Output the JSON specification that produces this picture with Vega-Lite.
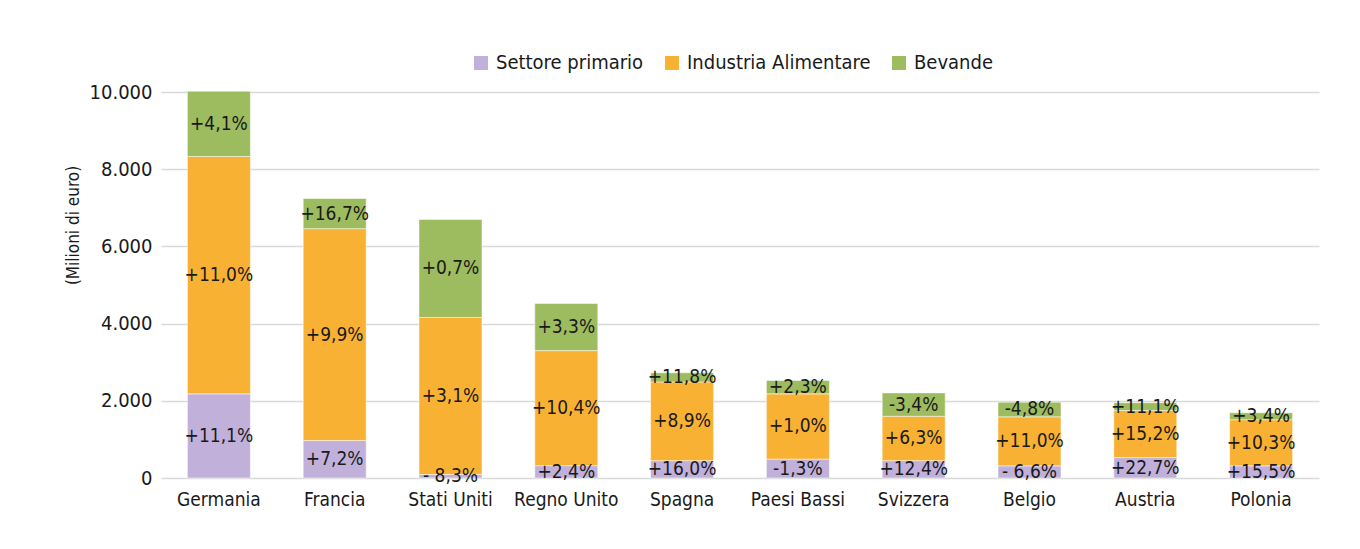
{
  "$schema": "https://vega.github.io/schema/vega-lite/v6.json",
  "width": 1158,
  "height": 386,
  "autosize": {"type": "none"},
  "padding": {"left": 161, "top": 92, "right": 41, "bottom": 71},
  "background": "white",
  "config": {
    "font": "DejaVu Sans Condensed, Liberation Sans Narrow, sans-serif",
    "view": {"stroke": null},
    "locale": {"number": {"decimal": ",", "thousands": ".", "grouping": [3], "currency": ["€", ""]}}
  },
  "data": {
    "values": [
      {"paese": "Germania", "serie": "Settore primario", "valore": 2180, "var": "+11,1%"},
      {"paese": "Germania", "serie": "Industria Alimentare", "valore": 6150, "var": "+11,0%"},
      {"paese": "Germania", "serie": "Bevande", "valore": 1690, "var": "+4,1%"},
      {"paese": "Francia", "serie": "Settore primario", "valore": 970, "var": "+7,2%"},
      {"paese": "Francia", "serie": "Industria Alimentare", "valore": 5490, "var": "+9,9%"},
      {"paese": "Francia", "serie": "Bevande", "valore": 780, "var": "+16,7%"},
      {"paese": "Stati Uniti", "serie": "Settore primario", "valore": 90, "var": "- 8,3%"},
      {"paese": "Stati Uniti", "serie": "Industria Alimentare", "valore": 4070, "var": "+3,1%"},
      {"paese": "Stati Uniti", "serie": "Bevande", "valore": 2540, "var": "+0,7%"},
      {"paese": "Regno Unito", "serie": "Settore primario", "valore": 320, "var": "+2,4%"},
      {"paese": "Regno Unito", "serie": "Industria Alimentare", "valore": 2980, "var": "+10,4%"},
      {"paese": "Regno Unito", "serie": "Bevande", "valore": 1220, "var": "+3,3%"},
      {"paese": "Spagna", "serie": "Settore primario", "valore": 450, "var": "+16,0%"},
      {"paese": "Spagna", "serie": "Industria Alimentare", "valore": 2040, "var": "+8,9%"},
      {"paese": "Spagna", "serie": "Bevande", "valore": 235, "var": "+11,8%"},
      {"paese": "Paesi Bassi", "serie": "Settore primario", "valore": 490, "var": "-1,3%"},
      {"paese": "Paesi Bassi", "serie": "Industria Alimentare", "valore": 1690, "var": "+1,0%"},
      {"paese": "Paesi Bassi", "serie": "Bevande", "valore": 345, "var": "+2,3%"},
      {"paese": "Svizzera", "serie": "Settore primario", "valore": 450, "var": "+12,4%"},
      {"paese": "Svizzera", "serie": "Industria Alimentare", "valore": 1150, "var": "+6,3%"},
      {"paese": "Svizzera", "serie": "Bevande", "valore": 605, "var": "-3,4%"},
      {"paese": "Belgio", "serie": "Settore primario", "valore": 315, "var": "- 6,6%"},
      {"paese": "Belgio", "serie": "Industria Alimentare", "valore": 1270, "var": "+11,0%"},
      {"paese": "Belgio", "serie": "Bevande", "valore": 380, "var": "-4,8%"},
      {"paese": "Austria", "serie": "Settore primario", "valore": 530, "var": "+22,7%"},
      {"paese": "Austria", "serie": "Industria Alimentare", "valore": 1220, "var": "+15,2%"},
      {"paese": "Austria", "serie": "Bevande", "valore": 200, "var": "+11,1%"},
      {"paese": "Polonia", "serie": "Settore primario", "valore": 315, "var": "+15,5%"},
      {"paese": "Polonia", "serie": "Industria Alimentare", "valore": 1195, "var": "+10,3%"},
      {"paese": "Polonia", "serie": "Bevande", "valore": 180, "var": "+3,4%"}
    ]
  },
  "transform": [
    {"stack": "valore", "groupby": ["paese"], "sort": [{"field": "serie", "order": "descending"}], "as": ["v0", "v1"]},
    {"calculate": "(datum.v0 + datum.v1) / 2", "as": "mid"}
  ],
  "encoding": {
    "x": {
      "field": "paese",
      "type": "nominal",
      "sort": null,
      "scale": {"paddingInner": 0.456, "paddingOuter": 0.228},
      "axis": {
        "title": null,
        "labelAngle": 0,
        "labelFontSize": 19,
        "labelColor": "#1a1a1a",
        "labelPadding": 12,
        "ticks": false,
        "domain": false
      }
    }
  },
  "layer": [
    {
      "mark": {"type": "bar", "stroke": "white", "strokeWidth": 0.5},
      "encoding": {
        "y": {
          "field": "v0",
          "type": "quantitative",
          "scale": {"domain": [0, 10000], "nice": false},
          "axis": {
            "title": "(Milioni di euro)",
            "titleFontSize": 17,
            "titleFontWeight": "normal",
            "titleColor": "#1a1a1a",
            "titleX": -88,
            "titleY": 133,
            "titleBaseline": "middle",
            "values": [0, 2000, 4000, 6000, 8000, 10000],
            "format": ",d",
            "labelFontSize": 20,
            "labelColor": "#1a1a1a",
            "labelPadding": 9,
            "ticks": false,
            "domain": false,
            "grid": true,
            "gridColor": "#d9d9d9",
            "gridWidth": 1.5
          }
        },
        "y2": {"field": "v1"},
        "color": {
          "field": "serie",
          "type": "nominal",
          "scale": {
            "domain": ["Settore primario", "Industria Alimentare", "Bevande"],
            "range": ["#c1b0da", "#f8b133", "#9dbb5f"]
          },
          "legend": {
            "title": null,
            "orient": "none",
            "direction": "horizontal",
            "legendX": 310,
            "legendY": -39,
            "symbolType": "square",
            "symbolSize": 196,
            "symbolStrokeWidth": 0,
            "symbolOpacity": 1,
            "labelFontSize": 20,
            "labelLimit": 400,
            "labelColor": "#1a1a1a",
            "labelOffset": 5,
            "columnPadding": 18
          }
        }
      }
    },
    {
      "mark": {"type": "text", "fontSize": 19, "color": "#1a1a1a", "baseline": "middle", "align": "center"},
      "encoding": {
        "y": {"field": "mid", "type": "quantitative"},
        "text": {"field": "var", "type": "nominal"}
      }
    }
  ]
}
